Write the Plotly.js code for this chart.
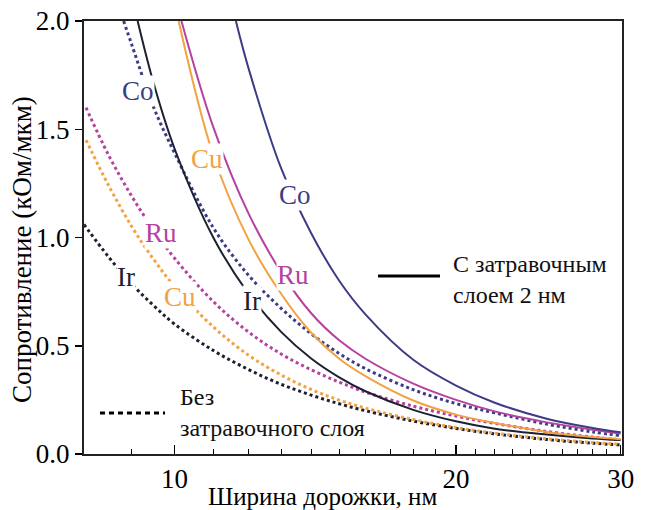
<!DOCTYPE html>
<html>
<head>
<meta charset="utf-8">
<script src="https://cdn.plot.ly/plotly-3.0.1.min.js"></script>
<style>html,body{margin:0;padding:0;background:#fff;}#chart{width:649px;height:510px;}</style>
</head>
<body>
<div id="chart"></div>
<script>
// ---- Data (track width, nm ; resistance, kOhm/um) ----
// With 2 nm seed layer (solid)
const coSeedW = [11.63, 12, 13, 14, 15, 16, 18, 20, 22, 25, 28, 30];
const coSeedR = [2.0, 1.78, 1.32, 1.02, 0.80, 0.645, 0.435, 0.316, 0.237, 0.163, 0.12, 0.10];

const ruSeedW = [10.17, 11, 12, 13, 14, 15, 16, 18, 20, 22, 25, 28, 30];
const ruSeedR = [2.0, 1.51, 1.11, 0.84, 0.65, 0.525, 0.44, 0.325, 0.25, 0.197, 0.146, 0.112, 0.095];

const cuSeedW = [10.1, 11, 12, 13, 14, 15, 16, 18, 20, 22, 25, 28, 30];
const cuSeedR = [2.0, 1.38, 0.99, 0.74, 0.56, 0.44, 0.36, 0.247, 0.182, 0.143, 0.102, 0.078, 0.068];

const irSeedW = [9.13, 9.5, 10, 11, 12, 13, 14, 15, 16, 18, 20, 22, 25, 28, 30];
const irSeedR = [2.0, 1.71, 1.41, 1.0, 0.74, 0.564, 0.441, 0.354, 0.29, 0.204, 0.151, 0.117, 0.09, 0.072, 0.065];

// Without seed layer (dashed)
const coBareW = [8.82, 9, 9.5, 10, 11, 12, 13, 14, 15, 16, 18, 20, 22, 25, 28, 30];
const coBareR = [2.0, 1.89, 1.60, 1.39, 1.045, 0.825, 0.673, 0.555, 0.464, 0.394, 0.297, 0.233, 0.19, 0.138, 0.102, 0.085];

const ruBareW = [8.04, 8.5, 9, 9.5, 10, 11, 12, 13, 14, 15, 16, 18, 20, 22, 25, 28, 30];
const ruBareR = [1.60, 1.38, 1.19, 1.034, 0.904, 0.704, 0.563, 0.462, 0.389, 0.332, 0.286, 0.221, 0.175, 0.141, 0.104, 0.078, 0.066];

const cuBareW = [8.04, 8.5, 9, 9.5, 10, 11, 12, 13, 14, 15, 16, 18, 20, 22, 25, 28, 30];
const cuBareR = [1.45, 1.24, 1.05, 0.898, 0.773, 0.587, 0.456, 0.365, 0.298, 0.249, 0.212, 0.159, 0.122, 0.096, 0.07, 0.053, 0.045];

const irBareW = [8, 8.5, 9, 9.5, 10, 11, 12, 13, 14, 15, 16, 18, 20, 22, 25, 28, 30];
const irBareR = [1.06, 0.91, 0.785, 0.685, 0.60, 0.478, 0.39, 0.322, 0.272, 0.232, 0.20, 0.152, 0.118, 0.093, 0.067, 0.05, 0.042];

const xTickVals = [10, 20, 30];
const xTickText = ['10', '20', '30'];
const xMinorVals = [9, 11, 12, 13, 14, 15, 16, 17, 18, 19, 21, 22, 23, 24, 25, 26, 27, 28, 29];
const yTickVals = [0, 0.5, 1.0, 1.5, 2.0];
const yTickText = ['0.0', '0.5', '1.0', '1.5', '2.0'];

// ---- Styles ----
const C_CO = '#3c3c86';
const C_CU = '#f2a240';
const C_RU = '#b5429f';
const C_IR = '#1c2030';
const SERIF = 'Liberation Serif';

function solid(w, r, c) {
  return {x: w, y: r, type: 'scatter', mode: 'lines', showlegend: false, hoverinfo: 'skip',
          line: {color: c, width: 2, shape: 'spline', smoothing: 1}};
}
function dashed(w, r, c) {
  return {x: w, y: r, type: 'scatter', mode: 'lines', showlegend: false, hoverinfo: 'skip',
          line: {color: c, width: 3, dash: '3px,3px', shape: 'spline', smoothing: 1}};
}

const data = [
  dashed(irBareW, irBareR, C_IR),
  dashed(cuBareW, cuBareR, C_CU),
  dashed(ruBareW, ruBareR, C_RU),
  dashed(coBareW, coBareR, C_CO),
  solid(irSeedW, irSeedR, C_IR),
  solid(cuSeedW, cuSeedR, C_CU),
  solid(ruSeedW, ruSeedR, C_RU),
  solid(coSeedW, coSeedR, C_CO)
];

function lbl(text, x, y, c) {
  return {text: text, x: x, y: y, xref: 'paper', yref: 'paper', showarrow: false,
          xanchor: 'center', yanchor: 'middle', bgcolor: 'rgba(255,255,255,1)', borderpad: 0,
          font: {family: SERIF, size: 27, color: c}};
}

const annotations = [
  lbl('Co', 0.1004, 0.8383, C_CO),
  lbl('Co', 0.3922, 0.5982, C_CO),
  lbl('Cu', 0.2286, 0.6813, C_CU),
  lbl('Ru', 0.1431, 0.5104, C_RU),
  lbl('Ir', 0.0781, 0.4088, C_IR),
  lbl('Cu', 0.1784, 0.3626, C_CU),
  lbl('Ir', 0.3123, 0.3533, C_IR),
  lbl('Ru', 0.3885, 0.4134, C_RU),
  {text: 'С затравочным<br>слоем 2 нм', x: 0.682, y: 0.404, xref: 'paper', yref: 'paper',
   showarrow: false, xanchor: 'left', yanchor: 'middle', align: 'left',
   font: {family: SERIF, size: 24, color: '#111'}},
  {text: 'Без<br>затравочного слоя', x: 0.1747, y: 0.0947, xref: 'paper', yref: 'paper',
   showarrow: false, xanchor: 'left', yanchor: 'middle', align: 'left',
   font: {family: SERIF, size: 24, color: '#111'}},
  {text: 'Ширина дорожки, нм', x: 0.4424, y: -0.099, xref: 'paper', yref: 'paper',
   showarrow: false, xanchor: 'center', yanchor: 'middle',
   font: {family: SERIF, size: 25, color: '#000'}},
  {text: 'Сопротивление (кОм/мкм)', x: -0.1152, y: 0.471, xref: 'paper', yref: 'paper',
   showarrow: false, xanchor: 'center', yanchor: 'middle', textangle: -90,
   font: {family: SERIF, size: 27, color: '#000'}}
];

const shapes = [
  {type: 'line', xref: 'paper', yref: 'paper', x0: 0.5465, x1: 0.6617, y0: 0.411, y1: 0.411,
   line: {color: '#000', width: 3}},
  {type: 'line', xref: 'paper', yref: 'paper', x0: 0.0297, x1: 0.1506, y0: 0.0947, y1: 0.0947,
   line: {color: '#000', width: 3, dash: '5px,4px'}}
];

const layout = {
  width: 649, height: 510,
  margin: {l: 84, r: 27, t: 21, b: 56},
  paper_bgcolor: '#fff', plot_bgcolor: '#fff',
  showlegend: false,
  xaxis: {
    type: 'log', range: [Math.log10(8), Math.log10(30.1)],
    tickmode: 'array', tickvals: xTickVals, ticktext: xTickText,
    ticks: 'inside', ticklen: 9, tickwidth: 1.5, tickcolor: '#000',
    minor: {tickmode: 'array', tickvals: xMinorVals, ticks: 'inside', ticklen: 5, tickwidth: 1, tickcolor: '#000'},
    showline: true, linecolor: '#222', linewidth: 2, mirror: true,
    showgrid: false, zeroline: false,
    tickfont: {family: SERIF, size: 27, color: '#000'},
    title: {text: ''}
  },
  yaxis: {
    range: [0, 2.0],
    tickmode: 'array', tickvals: yTickVals, ticktext: yTickText,
    ticks: 'outside', ticklen: 7, tickwidth: 1.5, tickcolor: '#000',
    showline: true, linecolor: '#222', linewidth: 2, mirror: true,
    showgrid: false, zeroline: false,
    tickfont: {family: SERIF, size: 27, color: '#000'},
    title: {text: ''}
  },
  annotations: annotations,
  shapes: shapes
};

Plotly.newPlot('chart', data, layout, {displayModeBar: false, staticPlot: true});
</script>
</body>
</html>
